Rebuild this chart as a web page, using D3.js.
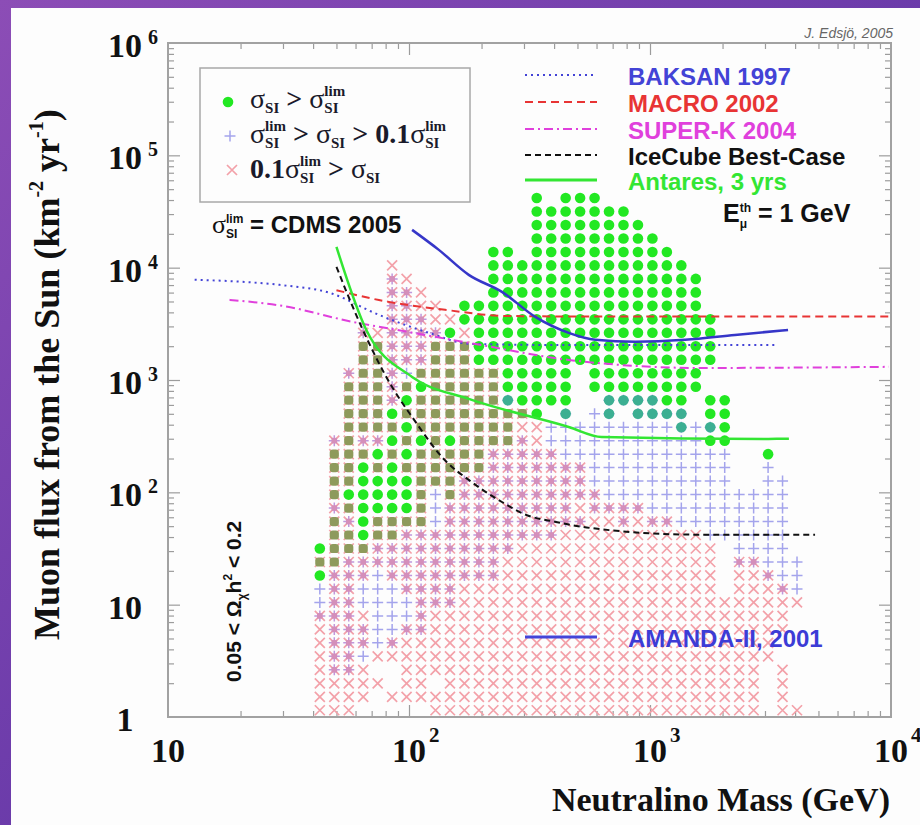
<!DOCTYPE html>
<meta charset="utf-8">
<style>
body { margin: 0; background: #fff; }
svg { display: block; }
text { white-space: pre; }
</style>
<body>
<svg id="chart" width="920" height="825"></svg>
<script src="https://d3js.org/d3.v7.min.js"></script>
<script>
// model points binned on a 50 x 50 log grid (mass 10..1e4, flux 1..1e6)
// one row per flux bin, top row first; run-length tokens, one char per mass bin
// g dot, r cross, b plus, G dot+cross, B cross+plus, T dot+plus, . empty
var firstCol = 10, topRow = 38;
var massBin = 0.06, fluxBin = 0.12;
var cellRows = [
  "15. g . 3g",
  "15. 7g",
  "15. 8g",
  "15. 9g",
  "12. 2g . 10g",
  "5. r 6. 14g",
  "5. B r 5. 15g",
  "5. 2B r 4. 15g",
  "5. 2B 2r . 17g",
  "5. 3B 2r 18g",
  "3. B r 4B g r 17g",
  "3. 2G 3B 3G 17g",
  "3. 2G 3B 3G 17g",
  "2. B 2G B b 6G 5g . 8g",
  "2. 3G B G g 5G 5g . 8g",
  "2. 3G B g 6G T 4g 2. 4T 2g . 2g",
  "2. 3G g 9G g . T . b T . 4T . 2g",
  "2. 4G g 7G 2r 9b T b T g",
  ". B G 2B g G g G g 4G B r 11b 2g",
  ". 3G g G g 5G 5B 12b 2. g",
  ". 2G g G g 6G 7B 10b 2. b",
  ". 2G 4g 3G 9B 10b 2. 2b",
  ". G 5g G b G 10B 13b",
  ". B G 4g G b 9B r 4B 10b",
  ". G B g 4G b 10B 2r B r 2B 8b",
  ". 2G g 2G 11B 10r 6b",
  "g 3G 10B 14r . 4b",
  "2G 11B 15r . 2B 3b",
  "g 3B b 8B 15r . 2r B 2b",
  "b 2B 3b 4B 18r . 3r B b",
  "b 2B 4b 3B 24r",
  "3B r 3b B 25r",
  "r 3B 2b 2B 25r",
  "r 3B b B 26r",
  "r 2B b 28r",
  "r 2B r 2. 25r . r",
  "5r . 2r . 22r . r",
  "4r . 26r . r",
  "3r 5. 23r . 2r"
];

// limit curves: [mass GeV, muon flux km^-2 yr^-1]
var baksan = [[12.9,7800],[20,7500],[29,7030],[46.8,5970],[75,3800],[121,2630],[178,2100],[400,2050],[3400,2050]];
var macro = [[50,6300],[75,5150],[143,4200],[250,3720],[600,3670],[9800,3670]];
var superk = [[18,5170],[30,4560],[58,3300],[100,2670],[178,2140],[460,1510],[1630,1280],[9800,1310]];
var icecube = [[50,10170],[63.5,2970],[85,869],[103,469],[143,187],[177,129],[243,82],[306,63],[407,54.5],[573,48],[1590,42],[4840,42]];
var antares = [[50,15300],[66.5,2790],[103,1066],[177,679],[460,382],[630,311],[3100,299],[3770,300]];
var amanda = [[103,21700],[133,14400],[177,8630],[243,6090],[334,3650],[460,2630],[593,2280],[870,2190],[1400,2280],[2250,2520],[3740,2790]];

var legendNames = ["BAKSAN 1997", "MACRO 2002", "SUPER-K 2004", "IceCube Best-Case", "Antares, 3 yrs"];
var legendColors = ["#4343d6", "#e83434", "#e040dc", "#111111", "#33e633"];
var legendDash = ["2,4", "8,5", "9,4,2,4", "6,4", null];
var massDecades = [10, 100, 1000, 10000];
var fluxDecades = [1, 10, 100, 1000, 10000, 100000, 1000000];

var W = 920, H = 825;
var serif = "'Liberation Serif', 'Times New Roman', serif";
var sans = "'Liberation Sans', Arial, sans-serif";

var svg = d3.select("#chart");
var defs = svg.append("defs");
var grad = defs.append("linearGradient").attr("id", "bg")
    .attr("x1", 0).attr("y1", 0).attr("x2", 1).attr("y2", 1);
grad.append("stop").attr("offset", 0).attr("stop-color", "#8c4db6");
grad.append("stop").attr("offset", 1).attr("stop-color", "#4b2a9e");
svg.append("rect").attr("width", W).attr("height", H).attr("fill", "url(#bg)");
svg.append("rect").attr("x", 11).attr("y", 8).attr("width", W - 11).attr("height", H - 8).attr("fill", "#fdfdfd");

var x = d3.scaleLog().domain([10, 1e4]).range([168, 891]);
var y = d3.scaleLog().domain([1, 1e6]).range([717, 43]);

// ---------- ticks ----------
function minors(decades) {
  var out = [];
  decades.slice(0, -1).forEach(function(d) { for (var k = 2; k < 10; k++) out.push(d * k); });
  return out;
}
function ticks(axisFn, scale, vals, size, tx, ty) {
  var g = svg.append("g").attr("transform", "translate(" + tx + "," + ty + ")")
      .call(axisFn(scale).tickValues(vals).tickSize(size).tickFormat(""));
  g.select(".domain").remove();
  g.selectAll("line").attr("stroke", "#9c9c9c").attr("stroke-width", 1.2);
}
var xMaj = massDecades.slice(1, -1), yMaj = fluxDecades.slice(1, -1);
ticks(d3.axisBottom, x, minors(massDecades), -6, 0, 717);
ticks(d3.axisBottom, x, xMaj, -12, 0, 717);
ticks(d3.axisTop, x, minors(massDecades), -6, 0, 43);
ticks(d3.axisTop, x, xMaj, -12, 0, 43);
ticks(d3.axisLeft, y, minors(fluxDecades), -6, 168, 0);
ticks(d3.axisLeft, y, yMaj, -12, 168, 0);
ticks(d3.axisRight, y, minors(fluxDecades), -6, 891, 0);
ticks(d3.axisRight, y, yMaj, -12, 891, 0);
svg.append("rect").attr("x", 168).attr("y", 43).attr("width", 891 - 168).attr("height", 717 - 43)
    .attr("fill", "none").attr("stroke", "#a2a2a2").attr("stroke-width", 2);

// ---------- text helper ----------
function addText(g, tx, ty, str, p) {
  return g.append("text").attr("x", tx).attr("y", ty)
      .attr("font-family", p.font || sans).attr("font-size", p.size || 20)
      .attr("font-weight", p.weight || "bold").attr("font-style", p.italic ? "italic" : null)
      .attr("fill", p.fill || "#111").text(str);
}
function rich(parent, tx, ty, parts, anchor) {
  var g = parent.append("g"), cx = 0;
  parts.forEach(function(p) {
    if (p.sup != null || p.sub != null) {
      var w = 0;
      if (p.sup != null) w = Math.max(w, addText(g, cx, p.supDy, p.sup, p).node().getComputedTextLength());
      if (p.sub != null) w = Math.max(w, addText(g, cx, p.subDy, p.sub, p).node().getComputedTextLength());
      cx += w;
    } else {
      cx += addText(g, cx, p.dy || 0, p.t, p).node().getComputedTextLength();
    }
  });
  var shift = anchor === "end" ? -cx : anchor === "middle" ? -cx / 2 : 0;
  g.attr("transform", "translate(" + (tx + shift) + "," + ty + ")");
  return g;
}

// ---------- tick labels ----------
fluxDecades.forEach(function(v, e) {
  var yy = y(v);
  rich(svg, 125, yy + 14, [{t: e === 0 ? "1" : "10", font: serif, size: 34}], "middle");
  if (e > 1) rich(svg, 148, yy + 1, [{t: String(e), font: serif, size: 20}]);
});
massDecades.forEach(function(v, e) {
  var xx = x(v);
  rich(svg, xx, 762, [{t: "10", font: serif, size: 34}], "middle");
  if (e > 0) rich(svg, xx + 20, 742, [{t: String(e + 1), font: serif, size: 21}]);
});

// axis titles
rich(svg, 890, 811, [{t: "Neutralino Mass (GeV)", font: serif, size: 34}], "end");
var yt = svg.append("g").attr("transform", "translate(47,640) rotate(-90)");
rich(yt, 0, 12, [
  {t: "Muon flux from the Sun (km", font: serif, size: 36},
  {t: "-2", font: serif, size: 20, dy: -16},
  {t: " yr", font: serif, size: 36},
  {t: "-1", font: serif, size: 20, dy: -16},
  {t: ")", font: serif, size: 36}
]);

rich(svg, 893, 38, [{t: "J. Edsjö, 2005", size: 14, weight: "normal", italic: true, fill: "#666"}], "end");

// ---------- model points ----------
var cells = [];
cellRows.forEach(function(line, r) {
  var row = topRow - r, col = firstCol;
  line.trim().split(/\s+/).forEach(function(tok) {
    var n = tok.length > 1 ? +tok.slice(0, -1) : 1, k = tok.slice(-1);
    for (var i = 0; i < n; i++, col++) if (k !== ".") cells.push({col: col, row: row, kind: k});
  });
});
cells.forEach(function(d) {
  d.cx = x(Math.pow(10, 1 + (d.col + 0.5) * massBin));
  d.cy = y(Math.pow(10, (d.row + 0.5) * fluxBin));
});

var colCross = "#f3a1a9", colPlus = "#a4a4ec", colDot = "#22e822", colOlive = "#8e9a5c", colTeal = "#3caf92", colMix = "#d48fba";
function crossPath(cx, cy, s) {
  return "M" + (cx - s) + "," + (cy - s) + "L" + (cx + s) + "," + (cy + s) +
         "M" + (cx - s) + "," + (cy + s) + "L" + (cx + s) + "," + (cy - s);
}
function plusPath(cx, cy, s) {
  return "M" + (cx - s) + "," + cy + "L" + (cx + s) + "," + cy + "M" + cx + "," + (cy - s) + "L" + cx + "," + (cy + s);
}
function drawMarkers(g, data) {
  g.selectAll(".cross").data(data.filter(function(d) { return "rBG".indexOf(d.kind) >= 0; }))
    .enter().append("path").attr("class", "cross")
    .attr("d", function(d) { return crossPath(d.cx, d.cy, 5); })
    .attr("stroke", colCross).attr("stroke-width", 1.7).attr("fill", "none");
  g.selectAll(".plus").data(data.filter(function(d) { return "bBT".indexOf(d.kind) >= 0; }))
    .enter().append("path").attr("class", "plus")
    .attr("d", function(d) { return plusPath(d.cx, d.cy, 5.5); })
    .attr("stroke", function(d) { return d.kind === "B" ? "#bf98dc" : colPlus; })
    .attr("stroke-width", 1.5).attr("fill", "none");
  g.selectAll(".mix").data(data.filter(function(d) { return d.kind === "B"; }))
    .enter().append("rect").attr("class", "mix")
    .attr("x", function(d) { return d.cx - 2.8; }).attr("y", function(d) { return d.cy - 2.8; })
    .attr("width", 5.6).attr("height", 5.6).attr("fill", colMix);
  g.selectAll(".sq").data(data.filter(function(d) { return d.kind === "G"; }))
    .enter().append("rect").attr("class", "sq")
    .attr("x", function(d) { return d.cx - 4.6; }).attr("y", function(d) { return d.cy - 4.6; })
    .attr("width", 9.2).attr("height", 9.2).attr("rx", 3.2).attr("fill", colOlive);
  g.selectAll(".dot").data(data.filter(function(d) { return d.kind === "g" || d.kind === "T"; }))
    .enter().append("circle").attr("class", "dot")
    .attr("cx", function(d) { return d.cx; }).attr("cy", function(d) { return d.cy; }).attr("r", 5.3)
    .attr("fill", function(d) { return d.kind === "T" ? colTeal : colDot; });
}
drawMarkers(svg.append("g"), cells);

// ---------- curves ----------
var line = d3.line().x(function(d) { return x(d[0]); }).y(function(d) { return y(d[1]); }).curve(d3.curveMonotoneX);
[baksan, macro, superk, icecube, antares].forEach(function(c, i) {
  svg.append("path").datum(c).attr("d", line).attr("fill", "none")
      .attr("stroke", legendColors[i]).attr("stroke-width", i === 4 ? 2.5 : 2)
      .attr("stroke-dasharray", legendDash[i]);
});
svg.append("path").datum(amanda).attr("d", line).attr("fill", "none")
    .attr("stroke", "#3636c8").attr("stroke-width", 2.5);

// ---------- legends ----------
var legY = [75, 102, 129, 155, 180];
legendNames.forEach(function(name, i) {
  svg.append("line").attr("x1", 525).attr("x2", 597).attr("y1", legY[i]).attr("y2", legY[i])
      .attr("stroke", legendColors[i]).attr("stroke-width", i === 4 ? 3 : 2.2)
      .attr("stroke-dasharray", legendDash[i]);
  rich(svg, 628, legY[i] + 10, [{t: name, size: 24, fill: i === 3 ? "#111" : legendColors[i]}]);
});
svg.append("line").attr("x1", 525).attr("x2", 597).attr("y1", 637).attr("y2", 637)
    .attr("stroke", "#4444d8").attr("stroke-width", 3);
rich(svg, 628, 647, [{t: "AMANDA-II, 2001", size: 24, fill: "#3c3cd6"}]);

rich(svg, 723, 222, [
  {t: "E", size: 25},
  {sup: "th", sub: "\u03bc", supDy: -10, subDy: 6, size: 12},
  {t: " = 1 GeV", size: 25}
]);

rich(svg, 212, 233, [
  {t: "\u03c3", font: serif, size: 26, weight: "normal"},
  {sup: "lim", sub: "SI", supDy: -10, subDy: 5, size: 12},
  {t: " = CDMS 2005", size: 24}
]);

var om = svg.append("g").attr("transform", "translate(233,682) rotate(-90)");
rich(om, 0, 8, [
  {t: "0.05 < \u03a9", size: 21},
  {t: "\u03c7", size: 12, dy: 5},
  {t: "h", size: 21},
  {t: "2", size: 12, dy: -9},
  {t: " < 0.2", size: 21}
]);

// legend box
svg.append("rect").attr("x", 200).attr("y", 68).attr("width", 270).attr("height", 134)
    .attr("fill", "none").attr("stroke", "#a8a8a8").attr("stroke-width", 1.5);
drawMarkers(svg.append("g"), [
  {kind: "g", cx: 228, cy: 102}, {kind: "b", cx: 230, cy: 136}, {kind: "r", cx: 232, cy: 170}
]);
var sg = {font: serif, size: 28, fill: "#1a1a2a"};
function st(t, extra) { return Object.assign({t: t}, sg, extra || {}); }
var lim = {sup: "lim", sub: "SI", supDy: -12, subDy: 5, font: serif, size: 15, fill: "#1a1a2a"};
var si = {t: "SI", font: serif, size: 15, dy: 5, fill: "#1a1a2a"};
rich(svg, 250, 108, [st("\u03c3", {weight: "normal"}), si, st(" > "), st("\u03c3", {weight: "normal"}), lim]);
rich(svg, 250, 143, [st("\u03c3", {weight: "normal"}), lim, st(" > "), st("\u03c3", {weight: "normal"}), si, st(" > 0.1"), st("\u03c3", {weight: "normal"}), lim]);
rich(svg, 250, 178, [st("0.1"), st("\u03c3", {weight: "normal"}), lim, st(" > "), st("\u03c3", {weight: "normal"}), si]);
</script>
</body>
